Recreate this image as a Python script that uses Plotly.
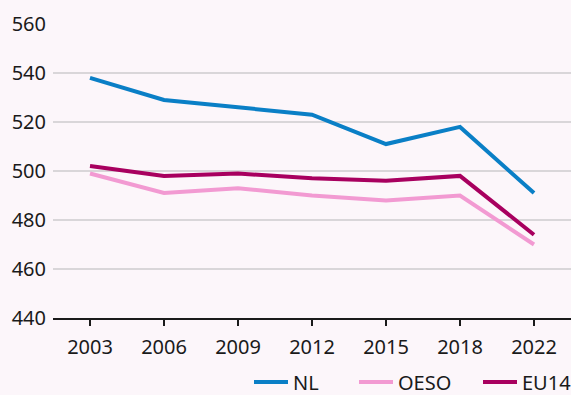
import plotly.graph_objects as go

years = ["2003", "2006", "2009", "2012", "2015", "2018", "2022"]
nl = [538, 529, 526, 523, 511, 518, 491]
oeso = [499, 491, 493, 490, 488, 490, 470]
eu14 = [502, 498, 499, 497, 496, 498, 474]

series = [
    ("NL", nl, "#0a7fc6", "legend", 249),
    ("OESO", oeso, "#f29ad2", "legend2", 354),
    ("EU14", eu14, "#a8005f", "legend3", 478),
]

font_family = "Noto Sans"
plot_left, plot_width = 53, 518

fig = go.Figure()
legends = {}
for name, vals, color, leg, px in series:
    fig.add_trace(go.Scatter(
        x=years, y=vals, name=name, mode="lines", legend=leg,
        line=dict(color=color, width=4),
    ))
    legends[leg] = dict(
        orientation="h", x=(px - plot_left) / plot_width, xanchor="left",
        y=-0.218, yanchor="middle", font=dict(size=20), itemwidth=34,
        bgcolor="rgba(0,0,0,0)",
    )

fig.update_layout(
    width=571, height=395,
    margin=dict(l=53, r=0, t=24, b=77, autoexpand=False),
    paper_bgcolor="#fcf6fa",
    plot_bgcolor="#fcf6fa",
    font=dict(family=font_family, size=20, color="#1a1a1a"),
    showlegend=True,
    xaxis=dict(
        type="category", range=[-0.5, 6.5], automargin=False,
        showgrid=False, showline=True, linecolor="#1a1a1a",
        linewidth=1.5, ticks="outside", ticklen=6, tickcolor="#1a1a1a",
        tickwidth=1.5, ticklabelstandoff=4,
    ),
    yaxis=dict(
        range=[440, 560], dtick=20, automargin=False,
        showgrid=True, gridcolor="#d9d6d9",
        gridwidth=1.5, zeroline=False, showline=False, ticks="",
        ticklabelstandoff=6,
    ),
    **legends,
)

fig.write_html("out.html")
